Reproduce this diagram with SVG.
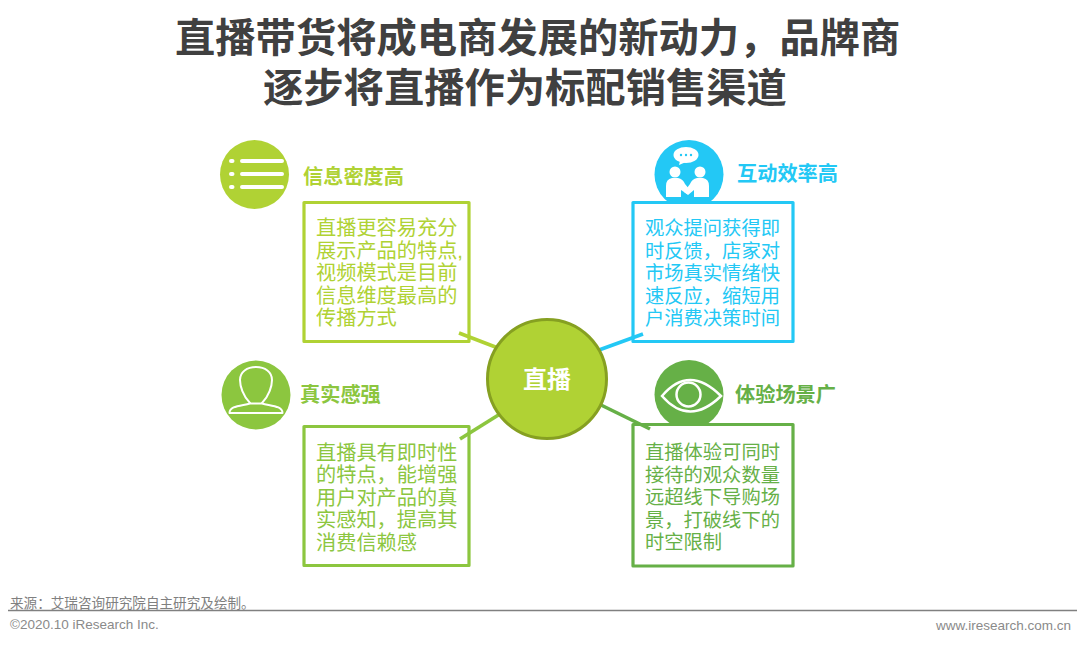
<svg xmlns="http://www.w3.org/2000/svg" width="1080" height="646" viewBox="0 0 1080 646">
<style>
text{font-family:"Liberation Sans","Noto Sans CJK SC",sans-serif}
.title{font-size:40.300px;font-weight:700;fill:#404040}
.head{font-size:20.200px;font-weight:700}
.bodyl{font-size:20.200px}
.bodyr{font-size:19.300px}
.box{fill:#fff;stroke-width:3.2;stroke-linejoin:round}
.lime{fill:#b0d234}.blue{fill:#23c8f5}.leaf{fill:#8cc63f}.moss{fill:#66b047}
.slime{stroke:#b0d234}.sblue{stroke:#23c8f5}.sleaf{stroke:#8cc63f}.smoss{stroke:#66b047}
.w{fill:none;stroke:#fff;stroke-width:2;stroke-linecap:round;stroke-linejoin:round}
.foot{font-size:13.500px;fill:#8a8a8a}
</style>
<text class="title" x="175" y="52">直播带货将成电商发展的新动力，品牌商</text>
<text class="title" x="263" y="102">逐步将直播作为标配销售渠道</text>

<g id="node-density">
<circle class="lime" cx="254.500" cy="174.500" r="34.500"/>
<g fill="none" stroke="#fff" stroke-width="4" stroke-linecap="round">
<path d="M242 161H282M242 174H282M242 187H282"/>
<path d="M231 161H232.500M231 174H232.500M231 187H232.500"/>
</g>
<text class="head lime" x="303" y="184">信息密度高</text>
<rect class="box slime" x="304" y="202.500" width="165" height="139"/>
<g class="bodyl lime">
<text x="316" y="235">直播更容易充分</text>
<text x="316" y="258">展示产品的特点,</text>
<text x="316" y="280">视频模式是目前</text>
<text x="316" y="303">信息维度最高的</text>
<text x="316" y="325">传播方式</text>
</g>
</g>

<g id="node-interaction">
<circle class="blue" cx="689" cy="174.500" r="34.500"/>
<g fill="#fff">
<ellipse cx="686" cy="155" rx="12.500" ry="8"/>
<path d="M680 161L679 165L686 162Z"/>
<circle cx="675" cy="172" r="5.500"/>
<circle cx="700" cy="172" r="5.500"/>
<path d="M666 197V186Q666 179 672 178H678Q683 179 685 184L690 190L687 194L681 190V197Z"/>
<path d="M709 197V186Q709 179 703 178H697Q692 179 690 184L684 192L688 195L694 190V197Z"/>
</g>
<g fill="#23c8f5"><circle cx="681" cy="155" r="1.200"/><circle cx="686" cy="155" r="1.200"/><circle cx="691" cy="155" r="1.200"/></g>
<text class="head blue" x="737" y="181">互动效率高</text>
<rect class="box sblue" x="633" y="202.500" width="160" height="139"/>
<g class="bodyr blue">
<text x="645" y="235">观众提问获得即</text>
<text x="645" y="258">时反馈，店家对</text>
<text x="645" y="280">市场真实情绪快</text>
<text x="645" y="303">速反应，缩短用</text>
<text x="645" y="325">户消费决策时间</text>
</g>
</g>

<g id="node-real">
<circle class="leaf" cx="256" cy="395" r="34.500"/>
<g class="w">
<path d="M250 403C243 396 240 386 240 380C240 372 247 367 256 367C265 367 272 372 272 380C272 386 269 396 262 403"/>
<path d="M229.500 413C229.500 406 240 406 250 403.500H262C272 406 282.500 406 282.500 413Z"/>
</g>
<text class="head leaf" x="300" y="402">真实感强</text>
<rect class="box sleaf" x="304" y="426.500" width="165" height="139"/>
<g class="bodyl leaf">
<text x="316" y="460">直播具有即时性</text>
<text x="316" y="482">的特点，能增强</text>
<text x="316" y="505">用户对产品的真</text>
<text x="316" y="527">实感知，提高其</text>
<text x="316" y="550">消费信赖感</text>
</g>
</g>

<g id="node-scene">
<circle class="moss" cx="689" cy="394.500" r="34.500"/>
<path d="M662 396Q689 364 721 396Q689 427 662 396Z" fill="none" stroke="#fff" stroke-width="2.500"/>
<circle cx="688.500" cy="394.500" r="12" fill="none" stroke="#fff" stroke-width="2.500"/>
<text class="head moss" x="735" y="402">体验场景广</text>
<rect class="box smoss" x="633" y="424.500" width="160" height="141.500"/>
<g class="bodyr moss">
<text x="645" y="459">直播体验可同时</text>
<text x="645" y="482">接待的观众数量</text>
<text x="645" y="504">远超线下导购场</text>
<text x="645" y="527">景，打破线下的</text>
<text x="645" y="549">时空限制</text>
</g>
</g>

<g id="connectors" fill="none" stroke-width="3.600">
<line class="slime" x1="459" y1="333" x2="498" y2="348"/>
<line class="sblue" x1="643" y1="334" x2="599" y2="350"/>
<line class="sleaf" x1="460" y1="439" x2="500" y2="414"/>
<line class="smoss" x1="650" y1="429" x2="601" y2="405"/>
</g>

<g id="node-center">
<circle class="lime" cx="547" cy="379" r="59.500" stroke="#86a021" stroke-width="3"/>
<text x="547" y="388" text-anchor="middle" font-size="24" font-weight="700" fill="#fff">直播</text>
</g>

<text x="10" y="608" font-size="13.600" fill="#808080">来源：艾瑞咨询研究院自主研究及绘制。</text>
<line x1="8" y1="610.500" x2="1077" y2="610.500" stroke="#808080" stroke-width="1.500"/>
<text class="foot" x="10" y="629">©2020.10 iResearch Inc.</text>
<text class="foot" x="1071" y="630" text-anchor="end">www.iresearch.com.cn</text>
</svg>
